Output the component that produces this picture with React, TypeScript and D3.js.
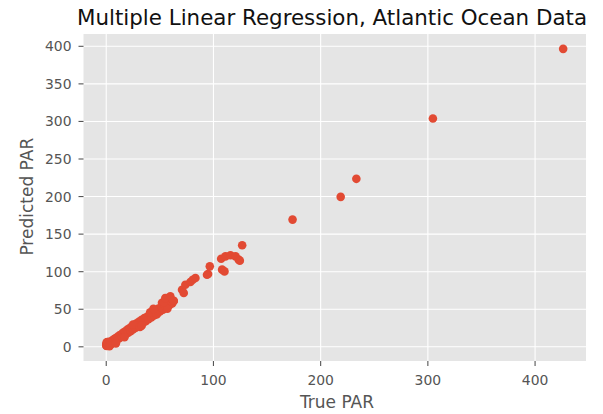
import * as d3 from 'd3';

// True vs predicted PAR values
const trueLow = [0.1, 0.2, 0.3, 0.5, 0.6, 0.8, 1.0, 1.2, 1.5, 1.8, 2.1, 2.5, 2.9, 3.3, 3.8, 4.3, 4.9];
const predLow = [1.5, 4.8, 2.6, 1.2, 5.9, 3.4, 2.0, 4.6, 1.8, 6.2, 3.1, 5.0, 2.4, 6.8, 4.1, 3.2, 7.4];

const trueBand = [
  5.5, 6.1, 6.8, 7.4, 8.1, 8.9, 9.6, 10.4, 11.2, 12.1, 12.9, 13.8, 14.7, 15.6, 16.6, 17.5, 18.5,
  19.5, 20.6, 21.6, 22.7, 23.8, 24.9, 26.0, 27.2, 28.3, 29.5, 30.7, 31.9, 33.1, 34.3, 35.6, 36.8,
  38.1, 39.4, 40.7, 42.0, 43.3, 44.6, 46.0, 47.3, 48.7, 50.1, 51.5, 52.9, 54.3, 55.8, 57.2, 58.6,
  60.0, 61.5, 63.0,
];
const predBand = [
  5.1, 8.9, 6.4, 10.2, 7.6, 11.8, 9.0, 13.1, 10.3, 15.0, 12.2, 16.4, 13.5, 18.7, 15.1, 20.3, 17.0,
  22.6, 18.9, 24.8, 20.7, 26.9, 23.1, 28.6, 25.0, 31.2, 27.4, 33.5, 29.6, 35.9, 31.8, 38.4, 34.0,
  40.1, 36.7, 43.2, 39.0, 45.6, 41.8, 48.3, 44.1, 51.0, 46.9, 53.4, 49.5, 56.8, 52.1, 59.7, 55.0,
  62.4, 57.8, 61.0,
];

// a few stragglers that widen the dense band
const trueEdge = [1.0, 3.0, 9.0, 17.0, 25.0, 31.5, 33.0, 41.0, 47.0, 52.0, 57.0, 44.0];
const predEdge = [6.5, 0.9, 4.6, 12.8, 29.5, 26.5, 28.2, 45.8, 43.0, 58.5, 50.8, 50.5];

const trueMid = [
  53.6, 55.1, 59.8, 62.9, 70.7, 72.3, 73.8, 78.5, 80.7, 83.2, 94.0, 95.0, 96.6, 107.2, 108.1,
  110.3, 111.2, 115.9, 120.6, 123.6, 124.6, 126.8,
];
const predMid = [
  59.6, 64.9, 67.1, 61.3, 76.0, 71.6, 82.7, 86.2, 89.3, 91.6, 96.0, 96.9, 107.1, 117.3, 102.7,
  100.4, 120.4, 121.8, 120.4, 116.0, 114.7, 135.1,
];

const trueHigh = [173.8, 218.7, 233.3, 304.7, 426.2];
const predHigh = [169.3, 199.6, 223.6, 304.0, 396.6];

const xTicks = [0, 100, 200, 300, 400];
const yTicks = [0, 50, 100, 150, 200, 250, 300, 350, 400];

const trueAll = [...trueLow, ...trueBand, ...trueEdge, ...trueMid, ...trueHigh];
const predAll = [...predLow, ...predBand, ...predEdge, ...predMid, ...predHigh];
const points = trueAll.map((t, i) => ({ t, p: predAll[i] }));

const W = 603;
const H = 414;
const left = 83.5;
const right = 586;
const top = 34;
const bottom = 361;

const font = 'DejaVu Sans, sans-serif';

// matplotlib-style 5% margins around the data
function padded(values: number[]): [number, number] {
  const [lo, hi] = d3.extent(values) as [number, number];
  const m = (hi - lo) * 0.05;
  return [lo - m, hi + m];
}

export default function App() {
  const x = d3.scaleLinear().domain(padded(trueAll)).range([left, right]);
  const y = d3.scaleLinear().domain(padded(predAll)).range([bottom, top]);

  return (
    <svg
      width={W}
      height={H}
      viewBox={`0 0 ${W} ${H}`}
      style={{ position: 'fixed', left: 0, top: 0, background: '#fff' }}
    >
      <rect x={left} y={top} width={right - left} height={bottom - top} fill="#E5E5E5" />

      {/* grid */}
      {xTicks.map((t) => (
        <line key={`gx${t}`} x1={x(t)} x2={x(t)} y1={top} y2={bottom} stroke="#fff" strokeWidth={1.1} />
      ))}
      {yTicks.map((t) => (
        <line key={`gy${t}`} x1={left} x2={right} y1={y(t)} y2={y(t)} stroke="#fff" strokeWidth={1.1} />
      ))}

      {/* points */}
      {points.map((d, i) => (
        <circle key={i} cx={x(d.t)} cy={y(d.p)} r={4.3} fill="#E24A33" />
      ))}

      {/* x axis */}
      {xTicks.map((t) => (
        <g key={`xt${t}`}>
          <line x1={x(t)} x2={x(t)} y1={bottom} y2={bottom + 5} stroke="#555" strokeWidth={1.1} />
          <text
            x={x(t)}
            y={385}
            textAnchor="middle"
            fontFamily={font}
            fontSize={13.9}
            fill="#555"
          >
            {t}
          </text>
        </g>
      ))}
      {/* y axis */}
      {yTicks.map((t) => (
        <g key={`yt${t}`}>
          <line x1={left - 5} x2={left} y1={y(t)} y2={y(t)} stroke="#555" strokeWidth={1.1} />
          <text
            x={71.5}
            y={y(t)}
            dy="0.36em"
            textAnchor="end"
            fontFamily={font}
            fontSize={13.9}
            fill="#555"
          >
            {t}
          </text>
        </g>
      ))}

      <text x={337} y={408} textAnchor="middle" fontFamily={font} fontSize={17} fill="#555">
        True PAR
      </text>
      <text
        transform={`translate(33, 196.7) rotate(-90)`}
        textAnchor="middle"
        fontFamily={font}
        fontSize={17}
        fill="#555"
      >
        Predicted PAR
      </text>
      <text x={332} y={25} textAnchor="middle" fontFamily={font} fontSize={21.4} fill="#111">
        Multiple Linear Regression, Atlantic Ocean Data
      </text>
    </svg>
  );
}
